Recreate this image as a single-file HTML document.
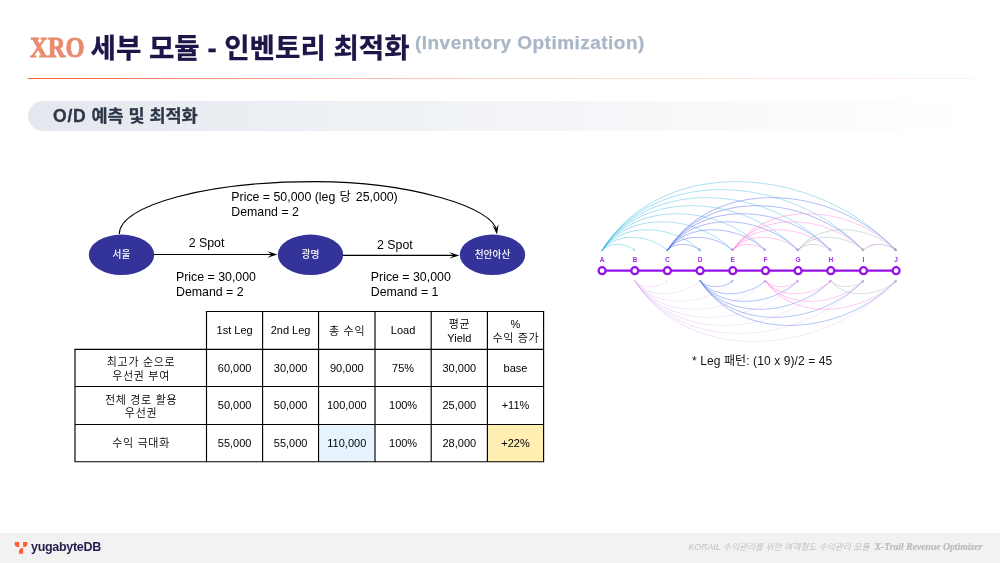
<!DOCTYPE html>
<html lang="ko">
<head>
<meta charset="utf-8">
<title>XRO 세부 모듈 - 인벤토리 최적화</title>
<style>
*{box-sizing:border-box;margin:0;padding:0}
html,body{width:1000px;height:563px;background:#fff;overflow:hidden}
body{position:relative;font-family:"Liberation Sans","Noto Sans CJK KR",sans-serif;color:#000}
.abs{position:absolute;white-space:nowrap}
#xro{left:30.3px;top:28.4px;font:bold 28.5px/40px "Liberation Serif","Noto Serif CJK SC",serif;color:#e88b6e;-webkit-text-stroke:0.85px #e88b6e;transform:scaleX(.86);transform-origin:0 0}
#ttl{left:90.5px;top:28.8px;-webkit-text-stroke:.3px #1e1548;font:bold 27.6px/40px "Liberation Sans","Noto Sans CJK KR",sans-serif;color:#1e1548}
#sub{left:415px;top:31px;letter-spacing:.47px;-webkit-text-stroke:.25px #a9b6c6;font:bold 19px/24px "Liberation Sans","Noto Sans CJK KR",sans-serif;color:#a9b6c6}
#rule{left:28px;top:78px;width:945px;height:1px;background:linear-gradient(90deg,#ff5a33 0%,rgba(255,95,55,.56) 25%,rgba(255,110,70,.3) 50%,rgba(255,140,100,.1) 100%)}
#pill{left:27.5px;top:101px;width:945.5px;height:30px;border-radius:15px 0 0 15px;background:linear-gradient(90deg,#e4e8ee 0%,#f2f4f7 50%,#ffffff 100%)}
#sec{left:53px;top:100.6px;-webkit-text-stroke:.3px #2d3748;font:bold 17.5px/30px "Liberation Sans","Noto Sans CJK KR",sans-serif;color:#2d3748}
#foot{left:0;top:533px;width:1000px;height:30px;background:#f2f2f2}
#brand{left:31px;top:538.9px;letter-spacing:-.3px;font:bold 12.5px/16px "Liberation Sans","Noto Sans CJK KR",sans-serif;color:#251c4d}
#fr1{left:688.5px;top:540.7px;font:italic 8.75px/12px "Liberation Sans","Noto Sans CJK KR",sans-serif;color:#c2c2c2}
#fr2{left:874.5px;top:540.7px;font:italic bold 9.7px/12px "Liberation Serif","Noto Serif CJK SC",serif;color:#bcbcbc;-webkit-text-stroke:.2px #bcbcbc}
svg text{font-family:"Liberation Sans","Noto Sans CJK KR",sans-serif}
</style>
</head>
<body>
<div class="abs" id="xro">XRO</div>
<div class="abs" id="ttl">세부 모듈 - 인벤토리 최적화</div>
<div class="abs" id="sub">(Inventory Optimization)</div>
<div class="abs" id="rule"></div>
<div class="abs" id="pill"></div>
<div class="abs" id="sec"><span style="letter-spacing:.8px">O/D</span> 예측 및 최적화</div>

<svg class="abs" style="left:0;top:0" width="1000" height="563" viewBox="0 0 1000 563">
<g id="diagram"><path d="M119.3 234C119.3 205.1 206.9 181.6 315 181.6C409.6 181.6 494.5 207.5 496.6 231" fill="none" stroke="#000" stroke-width="1.1"/><path d="M-10 -3.2L0 0L-10 3.2L-5.8 0Z" fill="#000" transform="translate(497 234.4) rotate(81)"/><path d="M154 254.5H272" stroke="#000" stroke-width="1.2"/><path d="M-10 -3.2L0 0L-10 3.2L-5.8 0Z" fill="#000" transform="translate(277.4 254.5)"/><path d="M343 255.4H454" stroke="#000" stroke-width="1.2"/><path d="M-10 -3.2L0 0L-10 3.2L-5.8 0Z" fill="#000" transform="translate(459.4 255.4)"/><ellipse cx="121.5" cy="254.8" rx="32.7" ry="20.2" fill="#333399"/><text x="121.5" y="258.2" text-anchor="middle" font-size="9.7" font-weight="500" fill="#fff">서울</text><ellipse cx="310.5" cy="254.8" rx="32.7" ry="20.2" fill="#333399"/><text x="310.5" y="258.2" text-anchor="middle" font-size="9.7" font-weight="500" fill="#fff">광명</text><ellipse cx="492.5" cy="254.8" rx="32.7" ry="20.2" fill="#333399"/><text x="492.5" y="258.2" text-anchor="middle" font-size="9.7" font-weight="500" fill="#fff">천안아산</text><text x="231.3" y="201.3" font-size="12.35" fill="#000">Price = 50,000 (leg <tspan dx="0.8">당</tspan><tspan dx="1.6"> 25,000)</tspan></text><text x="231.3" y="216.3" font-size="12.35" fill="#000">Demand = 2</text><text x="188.7" y="247.2" font-size="12.35" fill="#000">2 Spot</text><text x="377" y="248.8" font-size="12.35" fill="#000">2 Spot</text><text x="176" y="280.8" font-size="12.35" fill="#000">Price = 30,000</text><text x="176" y="295.8" font-size="12.35" fill="#000">Demand = 2</text><text x="370.8" y="280.8" font-size="12.35" fill="#000">Price = 30,000</text><text x="370.8" y="295.8" font-size="12.35" fill="#000">Demand = 1</text></g>
<g id="table"><rect x="318.55" y="424.45" width="56.44999999999999" height="37.25" fill="#e6f3ff"/><rect x="487.4" y="424.45" width="56.200000000000045" height="37.25" fill="#ffefb3"/><path d="M205.9 311.5H544.2M74.4 349.4H544.2M74.4 386.5H544.2M74.4 424.45H544.2M74.4 461.7H544.2M75 349.4V461.7M206.5 311.5V461.7M262.6 311.5V461.7M318.55 311.5V461.7M375 311.5V461.7M431.2 311.5V461.7M487.4 311.5V461.7M543.6 311.5V461.7" fill="none" stroke="#000" stroke-width="1.15"/><text x="234.6" y="334.3" text-anchor="middle" font-size="11" fill="#000">1st Leg</text><text x="290.6" y="334.3" text-anchor="middle" font-size="11" fill="#000">2nd Leg</text><text x="347.1" y="334.9" text-anchor="middle" font-size="11" letter-spacing="0.7" font-weight="350" fill="#000">총 수익</text><text x="403.1" y="334.3" text-anchor="middle" font-size="11" fill="#000">Load</text><text x="459.6" y="328.4" text-anchor="middle" font-size="11" letter-spacing="0.7" font-weight="350" fill="#000">평균</text><text x="459.3" y="342.0" text-anchor="middle" font-size="11" fill="#000">Yield</text><text x="515.5" y="328.4" text-anchor="middle" font-size="11" fill="#000">%</text><text x="515.9" y="342.0" text-anchor="middle" font-size="11" letter-spacing="0.7" font-weight="350" fill="#000">수익 증가</text><text x="141.1" y="365.9" text-anchor="middle" font-size="11" letter-spacing="0.7" font-weight="350" fill="#000">최고가 순으로</text><text x="141.1" y="379.5" text-anchor="middle" font-size="11" letter-spacing="0.7" font-weight="350" fill="#000">우선권 부여</text><text x="234.6" y="371.8" text-anchor="middle" font-size="11" fill="#000">60,000</text><text x="290.6" y="371.8" text-anchor="middle" font-size="11" fill="#000">30,000</text><text x="346.8" y="371.8" text-anchor="middle" font-size="11" fill="#000">90,000</text><text x="403.1" y="371.8" text-anchor="middle" font-size="11" fill="#000">75%</text><text x="459.3" y="371.8" text-anchor="middle" font-size="11" fill="#000">30,000</text><text x="515.5" y="371.8" text-anchor="middle" font-size="11" fill="#000">base</text><text x="141.1" y="403.5" text-anchor="middle" font-size="11" letter-spacing="0.7" font-weight="350" fill="#000">전체 경로 활용</text><text x="141.1" y="417.1" text-anchor="middle" font-size="11" letter-spacing="0.7" font-weight="350" fill="#000">우선권</text><text x="234.6" y="409.4" text-anchor="middle" font-size="11" fill="#000">50,000</text><text x="290.6" y="409.4" text-anchor="middle" font-size="11" fill="#000">50,000</text><text x="346.8" y="409.4" text-anchor="middle" font-size="11" fill="#000">100,000</text><text x="403.1" y="409.4" text-anchor="middle" font-size="11" fill="#000">100%</text><text x="459.3" y="409.4" text-anchor="middle" font-size="11" fill="#000">25,000</text><text x="515.5" y="409.4" text-anchor="middle" font-size="11" fill="#000">+11%</text><text x="141.1" y="447.0" text-anchor="middle" font-size="11" letter-spacing="0.7" font-weight="350" fill="#000">수익 극대화</text><text x="234.6" y="447.0" text-anchor="middle" font-size="11" fill="#000">55,000</text><text x="290.6" y="447.0" text-anchor="middle" font-size="11" fill="#000">55,000</text><text x="346.8" y="447.0" text-anchor="middle" font-size="11" fill="#000">110,000</text><text x="403.1" y="447.0" text-anchor="middle" font-size="11" fill="#000">100%</text><text x="459.3" y="447.0" text-anchor="middle" font-size="11" fill="#000">28,000</text><text x="515.5" y="447.0" text-anchor="middle" font-size="11" fill="#000">+22%</text></g>
<g id="arcs"><defs><linearGradient id="g0" x1="0" y1="0" x2="1" y2="0"><stop offset="0" stop-color="#2fb6dd"/><stop offset="0.45" stop-color="#5fc5e6"/><stop offset="1" stop-color="#5fc5e6"/></linearGradient><linearGradient id="g1" x1="0" y1="0" x2="1" y2="0"><stop offset="0" stop-color="#dcaef4"/><stop offset="0.45" stop-color="#ebd0f8"/><stop offset="1" stop-color="#ebd0f8"/></linearGradient><linearGradient id="g2" x1="0" y1="0" x2="1" y2="0"><stop offset="0" stop-color="#3f5ce8"/><stop offset="0.45" stop-color="#6279ec"/><stop offset="1" stop-color="#6279ec"/></linearGradient><linearGradient id="g3" x1="0" y1="0" x2="1" y2="0"><stop offset="0" stop-color="#4472e6"/><stop offset="0.45" stop-color="#6a8cec"/><stop offset="1" stop-color="#6a8cec"/></linearGradient><linearGradient id="g4" x1="0" y1="0" x2="1" y2="0"><stop offset="0" stop-color="#ff6ad5"/><stop offset="0.45" stop-color="#ff8ede"/><stop offset="1" stop-color="#ff8ede"/></linearGradient><linearGradient id="g5" x1="0" y1="0" x2="1" y2="0"><stop offset="0" stop-color="#ff78d8"/><stop offset="0.45" stop-color="#ff98e1"/><stop offset="1" stop-color="#ff98e1"/></linearGradient><linearGradient id="g6" x1="0" y1="0" x2="1" y2="0"><stop offset="0" stop-color="#9aa6a6"/><stop offset="0.45" stop-color="#b0b9b9"/><stop offset="1" stop-color="#b0b9b9"/></linearGradient><linearGradient id="g7" x1="0" y1="0" x2="1" y2="0"><stop offset="0" stop-color="#a3aeae"/><stop offset="0.45" stop-color="#b8c0c0"/><stop offset="1" stop-color="#b8c0c0"/></linearGradient><linearGradient id="g8" x1="0" y1="0" x2="1" y2="0"><stop offset="0" stop-color="#a55fb2"/><stop offset="0.45" stop-color="#b47fbe"/><stop offset="1" stop-color="#b47fbe"/></linearGradient></defs><g fill="none" stroke-width="0.5" stroke-linecap="round"><g stroke="url(#g0)"><path d="M602.1 250.4C608.7 241.9 625.8 242.8 634.8 250.4"/><path d="M602.1 250.4C615.3 231.9 649.5 233.9 667.4 250.4"/><path d="M602.1 250.4C621.9 221.1 673.2 224.4 700.1 250.4"/><path d="M602.1 250.4C628.5 210.0 697.0 214.4 732.8 250.4"/><path d="M602.1 250.4C635.1 198.6 720.7 204.3 765.5 250.4"/><path d="M602.1 250.4C641.7 187.2 744.4 194.2 798.1 250.4"/><path d="M602.1 250.4C648.3 175.9 768.1 184.1 830.8 250.4"/><path d="M602.1 250.4C654.9 164.6 791.8 174.1 863.5 250.4"/><path d="M602.1 250.4C661.6 153.3 815.5 164.1 896.1 250.4"/></g><path d="M634.1 248.5L634.8 250.4M632.8 250.0L634.8 250.4M666.8 248.5L667.4 250.4M665.5 249.9L667.4 250.4M699.5 248.5L700.1 250.4M698.2 249.9L700.1 250.4M732.2 248.5L732.8 250.4M730.9 249.8L732.8 250.4M764.9 248.5L765.5 250.4M763.5 249.8L765.5 250.4M797.6 248.5L798.1 250.4M796.2 249.8L798.1 250.4M830.3 248.5L830.8 250.4M828.9 249.8L830.8 250.4M863.0 248.5L863.5 250.4M861.6 249.8L863.5 250.4M895.6 248.5L896.1 250.4M894.2 249.8L896.1 250.4" stroke="#5fc5e6" stroke-width="0.4"/><g stroke="url(#g1)"><path d="M634.8 280.7C641.4 289.2 658.5 288.3 667.4 280.7"/><path d="M634.8 280.7C648.0 299.2 682.2 297.2 700.1 280.7"/><path d="M634.8 280.7C654.6 310.0 705.9 306.7 732.8 280.7"/><path d="M634.8 280.7C661.2 321.1 729.6 316.7 765.5 280.7"/><path d="M634.8 280.7C667.8 332.5 753.3 326.8 798.1 280.7"/><path d="M634.8 280.7C674.4 343.9 777.1 336.9 830.8 280.7"/><path d="M634.8 280.7C681.0 355.2 800.8 347.0 863.5 280.7"/><path d="M634.8 280.7C687.6 366.5 824.5 357.0 896.1 280.7"/></g><path d="M665.5 281.1L667.4 280.7M666.7 282.6L667.4 280.7M698.2 281.2L700.1 280.7M699.5 282.6L700.1 280.7M730.9 281.2L732.8 280.7M732.2 282.6L732.8 280.7M763.5 281.3L765.5 280.7M764.9 282.6L765.5 280.7M796.2 281.3L798.1 280.7M797.6 282.6L798.1 280.7M828.9 281.3L830.8 280.7M830.3 282.6L830.8 280.7M861.6 281.3L863.5 280.7M863.0 282.6L863.5 280.7M894.2 281.3L896.1 280.7M895.6 282.6L896.1 280.7" stroke="#ebd0f8" stroke-width="0.4"/><g stroke="url(#g2)"><path d="M667.4 250.4C674.0 241.9 691.2 242.8 700.1 250.4"/><path d="M667.4 250.4C680.7 231.9 714.9 233.9 732.8 250.4"/><path d="M667.4 250.4C687.3 221.1 738.6 224.4 765.5 250.4"/><path d="M667.4 250.4C693.9 210.0 762.3 214.4 798.1 250.4"/><path d="M667.4 250.4C700.5 198.6 786.0 204.3 830.8 250.4"/><path d="M667.4 250.4C707.1 187.2 809.7 194.2 863.5 250.4"/><path d="M667.4 250.4C713.7 175.9 833.4 184.1 896.1 250.4"/></g><path d="M699.4 248.5L700.1 250.4M698.2 250.0L700.1 250.4M732.1 248.5L732.8 250.4M730.8 249.9L732.8 250.4M764.9 248.5L765.5 250.4M763.5 249.9L765.5 250.4M797.6 248.5L798.1 250.4M796.2 249.8L798.1 250.4M830.3 248.5L830.8 250.4M828.9 249.8L830.8 250.4M862.9 248.5L863.5 250.4M861.6 249.8L863.5 250.4M895.6 248.5L896.1 250.4M894.2 249.8L896.1 250.4" stroke="#6279ec" stroke-width="0.4"/><g stroke="url(#g3)"><path d="M700.1 280.7C706.7 289.2 723.8 288.3 732.8 280.7"/><path d="M700.1 280.7C713.3 299.2 747.5 297.2 765.5 280.7"/><path d="M700.1 280.7C719.9 310.0 771.3 306.7 798.1 280.7"/><path d="M700.1 280.7C726.5 321.1 795.0 316.7 830.8 280.7"/><path d="M700.1 280.7C733.1 332.5 818.7 326.8 863.5 280.7"/><path d="M700.1 280.7C739.7 343.9 842.4 336.9 896.1 280.7"/></g><path d="M730.8 281.1L732.8 280.7M732.1 282.6L732.8 280.7M763.5 281.2L765.5 280.7M764.8 282.6L765.5 280.7M796.2 281.2L798.1 280.7M797.5 282.6L798.1 280.7M828.9 281.3L830.8 280.7M830.2 282.6L830.8 280.7M861.5 281.3L863.5 280.7M862.9 282.6L863.5 280.7M894.2 281.3L896.1 280.7M895.6 282.6L896.1 280.7" stroke="#6a8cec" stroke-width="0.4"/><g stroke="url(#g4)"><path d="M732.8 250.4C739.4 241.9 756.5 242.8 765.5 250.4"/><path d="M732.8 250.4C746.0 231.9 780.2 233.9 798.1 250.4"/><path d="M732.8 250.4C752.6 221.1 803.9 224.4 830.8 250.4"/><path d="M732.8 250.4C759.2 210.0 827.6 214.4 863.5 250.4"/><path d="M732.8 250.4C765.8 198.6 851.4 204.3 896.1 250.4"/></g><path d="M764.7 248.5L765.5 250.4M763.5 250.0L765.5 250.4M797.5 248.5L798.1 250.4M796.2 249.9L798.1 250.4M830.2 248.5L830.8 250.4M828.9 249.9L830.8 250.4M862.9 248.5L863.5 250.4M861.5 249.8L863.5 250.4M895.6 248.5L896.1 250.4M894.2 249.8L896.1 250.4" stroke="#ff8ede" stroke-width="0.4"/><g stroke="url(#g5)"><path d="M765.5 280.7C772.1 289.2 789.2 288.3 798.1 280.7"/><path d="M765.5 280.7C778.7 299.2 812.9 297.2 830.8 280.7"/><path d="M765.5 280.7C785.3 310.0 836.6 306.7 863.5 280.7"/><path d="M765.5 280.7C791.9 321.1 860.3 316.7 896.1 280.7"/></g><path d="M796.2 281.1L798.1 280.7M797.4 282.6L798.1 280.7M828.8 281.2L830.8 280.7M830.1 282.6L830.8 280.7M861.5 281.2L863.5 280.7M862.9 282.6L863.5 280.7M894.2 281.3L896.1 280.7M895.6 282.6L896.1 280.7" stroke="#ff98e1" stroke-width="0.4"/><g stroke="url(#g6)"><path d="M798.1 250.4C804.7 241.9 821.8 242.8 830.8 250.4"/><path d="M798.1 250.4C811.3 231.9 845.6 233.9 863.5 250.4"/><path d="M798.1 250.4C817.9 221.1 869.3 224.4 896.1 250.4"/></g><path d="M830.1 248.5L830.8 250.4M828.8 250.0L830.8 250.4M862.8 248.5L863.5 250.4M861.5 249.9L863.5 250.4M895.5 248.5L896.1 250.4M894.2 249.9L896.1 250.4" stroke="#b0b9b9" stroke-width="0.4"/><g stroke="url(#g7)"><path d="M830.8 280.7C837.4 289.2 854.5 288.3 863.5 280.7"/><path d="M830.8 280.7C844.0 299.2 878.2 297.2 896.1 280.7"/></g><path d="M861.5 281.1L863.5 280.7M862.7 282.6L863.5 280.7M894.2 281.2L896.1 280.7M895.5 282.6L896.1 280.7" stroke="#b8c0c0" stroke-width="0.4"/><g stroke="url(#g8)"><path d="M863.5 250.4C870.1 241.9 887.2 242.8 896.1 250.4"/></g><path d="M895.4 248.5L896.1 250.4M894.2 250.0L896.1 250.4" stroke="#b47fbe" stroke-width="0.4"/></g><path d="M602.1 270.7H896.1" stroke="#9612ea" stroke-width="2.3"/><circle cx="602.1" cy="270.7" r="3.5" fill="#fff" stroke="#9612ea" stroke-width="2.3"/><text x="602.1" y="262.4" text-anchor="middle" font-size="6.6" font-weight="bold" fill="#a02ee8">A</text><circle cx="634.8" cy="270.7" r="3.5" fill="#fff" stroke="#9612ea" stroke-width="2.3"/><text x="634.8" y="262.4" text-anchor="middle" font-size="6.6" font-weight="bold" fill="#a02ee8">B</text><circle cx="667.4" cy="270.7" r="3.5" fill="#fff" stroke="#9612ea" stroke-width="2.3"/><text x="667.4" y="262.4" text-anchor="middle" font-size="6.6" font-weight="bold" fill="#a02ee8">C</text><circle cx="700.1" cy="270.7" r="3.5" fill="#fff" stroke="#9612ea" stroke-width="2.3"/><text x="700.1" y="262.4" text-anchor="middle" font-size="6.6" font-weight="bold" fill="#a02ee8">D</text><circle cx="732.8" cy="270.7" r="3.5" fill="#fff" stroke="#9612ea" stroke-width="2.3"/><text x="732.8" y="262.4" text-anchor="middle" font-size="6.6" font-weight="bold" fill="#a02ee8">E</text><circle cx="765.5" cy="270.7" r="3.5" fill="#fff" stroke="#9612ea" stroke-width="2.3"/><text x="765.5" y="262.4" text-anchor="middle" font-size="6.6" font-weight="bold" fill="#a02ee8">F</text><circle cx="798.1" cy="270.7" r="3.5" fill="#fff" stroke="#9612ea" stroke-width="2.3"/><text x="798.1" y="262.4" text-anchor="middle" font-size="6.6" font-weight="bold" fill="#a02ee8">G</text><circle cx="830.8" cy="270.7" r="3.5" fill="#fff" stroke="#9612ea" stroke-width="2.3"/><text x="830.8" y="262.4" text-anchor="middle" font-size="6.6" font-weight="bold" fill="#a02ee8">H</text><circle cx="863.5" cy="270.7" r="3.5" fill="#fff" stroke="#9612ea" stroke-width="2.3"/><text x="863.5" y="262.4" text-anchor="middle" font-size="6.6" font-weight="bold" fill="#a02ee8">I</text><circle cx="896.1" cy="270.7" r="3.5" fill="#fff" stroke="#9612ea" stroke-width="2.3"/><text x="896.1" y="262.4" text-anchor="middle" font-size="6.6" font-weight="bold" fill="#a02ee8">J</text><text x="692" y="365" font-size="12" letter-spacing="0.1" fill="#111">* Leg 패턴: (10 x 9)/2 = 45</text></g>
</svg>

<div class="abs" id="foot"></div>
<svg class="abs" style="left:14px;top:541px" width="14" height="13" viewBox="0 0 14 13"><g fill="#ff5a36"><path d="M0.7 0.9H5.1V6H2.9L0.7 4.2Z"/><path d="M9.1 0.9H13.3V4.2L11.1 6H9.1Z"/><path d="M7.4 6.9H9.1V12.7H5.1V9Z"/></g></svg>
<div class="abs" id="brand">yugabyteDB</div>
<div class="abs" id="fr1">KORAIL 수익관리를 위한 여객철도 수익관리 모듈</div>
<div class="abs" id="fr2">X-Trail Revenue Optimizer</div>
</body>
</html>
